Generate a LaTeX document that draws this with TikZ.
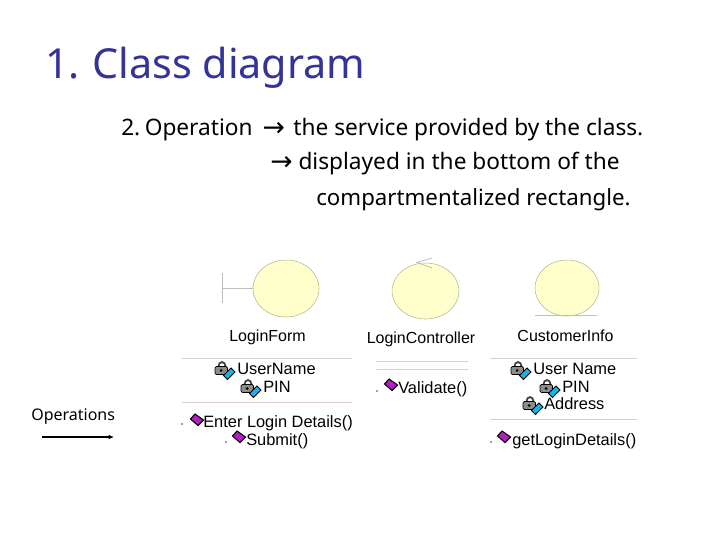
\documentclass[tikz,border=0pt]{standalone}
\usepackage{fontspec}
\setmainfont{Noto Sans}
\newfontfamily\labelfont{Liberation Sans}
\newfontfamily\arrowfont{DejaVu Sans}
\usetikzlibrary{arrows.meta}
\definecolor{titleblue}{HTML}{333399}
\definecolor{circlefill}{HTML}{FFFFCC}
\definecolor{circleline}{HTML}{B8B48C}
\definecolor{stereoline}{HTML}{BDBDBD}
\definecolor{dividerline}{HTML}{DCCCD4}
\definecolor{opmagenta}{HTML}{B020C0}
\definecolor{keyblue}{HTML}{18B4E8}
\definecolor{lockgrey}{HTML}{8C8C8C}
\newcommand{\bigarrow}{\raisebox{-1pt}{\arrowfont\fontsize{20}{20}\selectfont→}}
\tikzset{
    titletext/.style={anchor=base west,inner sep=0pt,text=titleblue,font=\fontsize{31}{31}\selectfont},
    bodytext/.style={anchor=base west,inner sep=0pt,font=\fontsize{17}{17}\selectfont},
    classname/.style={anchor=base,inner sep=0pt,font=\labelfont\fontsize{12}{12}\selectfont},
    membertext/.style={anchor=base west,inner sep=0pt,font=\labelfont\fontsize{12.3}{12.3}\selectfont},
    classcircle/.style={draw=circleline,fill=circlefill,line width=0.4pt},
    stereo/.style={draw=stereoline,line width=0.6pt},
    divider/.style={draw=dividerline,line width=0.6pt},
    pics/attricon/.style={code={
        \draw[black!75,line width=1.3pt] (-3.5,-1.5) arc (180:0:3.5 and -4.5);
        \fill[lockgrey,draw=black,line width=0.6pt,rounded corners=1pt] (-7,-1.5) rectangle (5.5,6.5);
        \fill[black] (-0.8,2.5) circle (1.5);
        \fill[keyblue,draw=black,line width=0.6pt] (1.5,7.5) -- (9,0) -- (13,4) -- (5.5,11.5) -- cycle;
    }},
    pics/opicon/.style={code={
        \fill[opmagenta,draw=black,line width=0.8pt] (-6.5,-1) -- (-2,-6) -- (6.5,0) -- (1,5.5) -- cycle;
    }},
    pics/scopedot/.style={code={
        \fill[titleblue] (0,0) circle (0.9);
    }}
}
\begin{document}
\begin{tikzpicture}[x=0.75pt,y=-0.75pt]
\useasboundingbox (0,0) rectangle (720,540);

% Slide text
\node[titletext] (title) at (45,78) {1.\hspace{0.3em}Class diagram};
\node[bodytext] (line1) at (121,135) {2.\hspace{0.2em}Operation \hspace{3pt}\bigarrow\hspace{2pt} the service provided by the class.};
\node[bodytext] (line2) at (270,169) {\bigarrow{} displayed in the bottom of the};
\node[bodytext,font=\fontsize{16.7}{16.7}\selectfont] (line3) at (316,205) {compartmentalized rectangle.};

% Side label
\node[anchor=base west,inner sep=0pt,font=\fontsize{12}{12}\selectfont] (oplabel) at (31,420) {Operations};
\coordinate (opstart) at (42,437);
\coordinate (opend) at (114,437);
\draw[-{Latex[length=4pt,width=3.5pt]},line width=0.8pt] (opstart) -- (opend);

% LoginForm
\draw[classcircle] (286,288.5) ellipse (33 and 28.5);
\draw[stereo] (222,273) -- (222,303);
\draw[stereo] (222,288) -- (253,288);
\node[classname] (formname) at (267.5,341) {LoginForm};
\draw[divider] (182,358.5) -- (352,358.5);
\draw[divider] (182,402) -- (352,402);
\pic at (222,368) {attricon};
\node[membertext] (username) at (237,374) {UserName};
\pic at (248,386) {attricon};
\node[membertext] (formpin) at (263,392) {PIN};
\pic at (197,420) {opicon};
\pic at (182,424) {scopedot};
\node[membertext] (enterlogin) at (203,427) {Enter Login Details()};
\pic at (239,437) {opicon};
\pic at (226,442) {scopedot};
\node[membertext] (submit) at (246,445) {Submit()};

% LoginController
\draw[classcircle] (425.5,291) ellipse (33.5 and 28);
\draw[stereo] (432,258) -- (417,262.5) -- (432,268);
\node[classname] (controllername) at (421,343) {LoginController};
\draw[divider] (376,361) -- (468,361);
\draw[divider] (376,369) -- (468,369);
\pic at (391,385) {opicon};
\pic at (377,391) {scopedot};
\node[membertext] (validate) at (398,393) {Validate()};

% CustomerInfo
\draw[classcircle] (567,288) ellipse (32 and 28);
\draw[stereo] (535,315.5) -- (597,315.5);
\node[classname] (customername) at (565.5,341) {CustomerInfo};
\draw[divider] (490,358.5) -- (637,358.5);
\draw[divider] (490,419) -- (637,419);
\pic at (518,368) {attricon};
\node[membertext] (customeruser) at (533,374) {User Name};
\pic at (547,386) {attricon};
\node[membertext] (customerpin) at (562,392) {PIN};
\pic at (530,403) {attricon};
\node[membertext] (customeraddr) at (544,409) {Address};
\pic at (504,437) {opicon};
\pic at (491,442) {scopedot};
\node[membertext] (getlogin) at (512,445) {getLoginDetails()};

\end{tikzpicture}
\end{document}
